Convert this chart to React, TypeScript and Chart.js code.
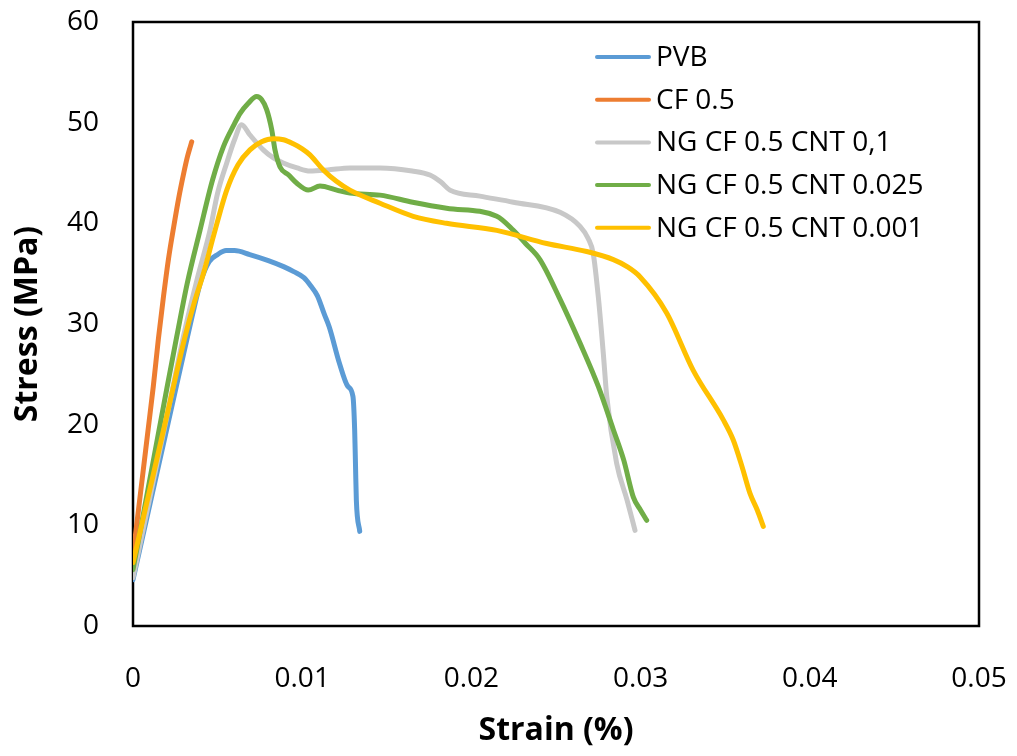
import { useEffect, useRef } from 'react';
import { Chart, registerables } from 'chart.js';

Chart.register(...registerables);

// ---- Data ----
const xTickLabels = ['0', '0.01', '0.02', '0.03', '0.04', '0.05'];
const yTickLabels = ['0', '10', '20', '30', '40', '50', '60'];

const seriesNames = ['PVB', 'CF 0.5', 'NG CF 0.5 CNT 0,1', 'NG CF 0.5 CNT 0.025', 'NG CF 0.5 CNT 0.001'];
const seriesColors = ['#5B9BD5', '#ED7D31', '#C8C8C8', '#70AD47', '#FFC000'];

const pvbStrain = [0, 0.001, 0.002, 0.003, 0.0035, 0.004, 0.0045, 0.005, 0.0055, 0.006, 0.0069, 0.008, 0.0089, 0.0095, 0.0101, 0.0105, 0.0109, 0.0113, 0.0116, 0.0122, 0.0127, 0.013, 0.0131, 0.01315, 0.0132, 0.0134];
const pvbStress = [4.6, 12.1, 19.6, 27.1, 30.8, 34.2, 36.2, 36.9, 37.3, 37.3, 36.9, 36.3, 35.7, 35.2, 34.6, 33.8, 32.8, 31.0, 29.7, 26.1, 23.8, 22.8, 19.5, 16.0, 12.5, 9.4];

const cfStrain = [0, 0.0003, 0.0006, 0.0009, 0.0012, 0.0015, 0.0018, 0.0021, 0.0024, 0.0027, 0.003, 0.0032, 0.0034, 0.00347];
const cfStress = [7.0, 11.2, 15.4, 19.6, 23.8, 28.5, 32.7, 36.5, 39.6, 42.5, 45.0, 46.5, 47.7, 48.1];

const cnt01Strain = [0, 0.001, 0.002, 0.003, 0.0038, 0.00455, 0.005, 0.00554, 0.006, 0.00642, 0.0069, 0.0077, 0.0083, 0.00888, 0.0097, 0.01046, 0.0115, 0.01282, 0.0146, 0.0165, 0.01755, 0.0182, 0.01873, 0.0205, 0.02248, 0.02524, 0.02642, 0.0269, 0.0272, 0.0275, 0.0278, 0.028, 0.02858, 0.0292, 0.02967];
const cnt01Stress = [4.8, 12.8, 20.8, 28.9, 34.5, 39.3, 43.0, 46.0, 48.3, 49.8, 48.8, 47.3, 46.5, 46.0, 45.5, 45.2, 45.3, 45.5, 45.5, 45.2, 44.8, 44.1, 43.3, 42.7, 42.1, 41.1, 39.7, 38.5, 37.0, 32.7, 27.0, 22.8, 16.2, 12.5, 9.5];

const cnt025Strain = [0, 0.001, 0.002, 0.00258, 0.0032, 0.00396, 0.0047, 0.00534, 0.006, 0.00632, 0.0068, 0.00731, 0.0076, 0.0079, 0.0082, 0.00839, 0.00869, 0.0092, 0.00967, 0.01036, 0.01105, 0.01204, 0.01282, 0.0146, 0.01653, 0.01853, 0.0215, 0.02248, 0.0232, 0.02405, 0.0252, 0.02642, 0.0275, 0.02839, 0.029, 0.02957, 0.03, 0.03036];
const cnt025Stress = [5.6, 14.6, 23.6, 28.7, 34.0, 39.3, 44.3, 47.6, 49.9, 50.9, 51.9, 52.6, 52.3, 51.3, 49.3, 47.3, 45.6, 44.8, 44.0, 43.3, 43.7, 43.3, 43.0, 42.8, 42.1, 41.5, 40.7, 39.3, 38.0, 36.4, 32.6, 28.1, 23.8, 19.5, 16.5, 12.8, 11.5, 10.5];

const cnt001Strain = [0, 0.001, 0.002, 0.00307, 0.0036, 0.00416, 0.0048, 0.00554, 0.0062, 0.00691, 0.0076, 0.00829, 0.0089, 0.00947, 0.01, 0.01046, 0.01125, 0.012, 0.01282, 0.0146, 0.01656, 0.01853, 0.0215, 0.02445, 0.02681, 0.02839, 0.0292, 0.02996, 0.03154, 0.03311, 0.03488, 0.03547, 0.036, 0.03646, 0.0369, 0.03725];
const cnt001Stress = [6.3, 13.6, 20.9, 28.7, 32.0, 35.0, 39.0, 43.3, 45.8, 47.3, 48.1, 48.4, 48.3, 47.9, 47.4, 46.8, 45.3, 44.2, 43.3, 42.0, 40.7, 40.0, 39.3, 38.0, 37.2, 36.4, 35.7, 34.7, 31.1, 25.4, 20.5, 18.5, 15.8, 13.2, 11.5, 9.9];

const strainSeries = [pvbStrain, cfStrain, cnt01Strain, cnt025Strain, cnt001Strain];
const stressSeries = [pvbStress, cfStress, cnt01Stress, cnt025Stress, cnt001Stress];

const FONT = "'Open Sans', 'Noto Sans', sans-serif";

const framePlugin = {
  id: 'frame',
  beforeDatasetsDraw(chart: any) {
    const { ctx, chartArea } = chart;
    ctx.save();
    ctx.strokeStyle = '#000';
    ctx.lineWidth = 2.5;
    ctx.strokeRect(chartArea.left, chartArea.top, chartArea.right - chartArea.left, chartArea.bottom - chartArea.top);
    ctx.restore();
  },
};

const legendPlugin = {
  id: 'insideLegend',
  afterDraw(chart: any) {
    const { ctx, chartArea } = chart;
    ctx.save();
    const x0 = chartArea.left + 464;
    const x1 = chartArea.left + 516;
    const tx = chartArea.left + 523;
    ctx.font = `28px ${FONT}`;
    ctx.textBaseline = 'middle';
    ctx.textAlign = 'left';
    seriesNames.forEach((name, i) => {
      const y = chartArea.top + 35 + i * 42.7;
      ctx.strokeStyle = seriesColors[i];
      ctx.lineWidth = 4;
      ctx.lineCap = 'round';
      ctx.beginPath();
      ctx.moveTo(x0, y);
      ctx.lineTo(x1, y);
      ctx.stroke();
      ctx.fillStyle = '#000';
      ctx.fillText(name, tx, y + 1);
    });
    ctx.restore();
  },
};

const zeroPad = (s: any) => {
  s.paddingTop = 0;
  s.paddingBottom = 0;
  s.paddingLeft = 0;
  s.paddingRight = 0;
};

export default function App() {
  const ref = useRef<HTMLCanvasElement | null>(null);

  useEffect(() => {
    document.body.style.margin = '0';
    const canvas = ref.current;
    if (!canvas) return;
    const datasets = seriesNames.map((name, i) => ({
      label: name,
      data: strainSeries[i].map((x, j) => ({ x, y: stressSeries[i][j] })),
      borderColor: seriesColors[i],
      backgroundColor: seriesColors[i],
      borderWidth: 5,
      pointRadius: 0,
      cubicInterpolationMode: 'monotone' as const,
      borderCapStyle: 'round' as const,
      borderJoinStyle: 'round' as const,
      fill: false,
      order: seriesNames.length - i,
    }));
    const chart = new Chart(canvas, {
      type: 'line',
      data: { datasets },
      options: {
        animation: false,
        responsive: false,
        devicePixelRatio: 1,
        layout: { padding: { left: 0, top: 22, right: 38, bottom: 0 } },
        plugins: {
          legend: { display: false },
          tooltip: { enabled: false },
        },
        scales: {
          x: {
            type: 'linear',
            min: 0,
            max: 0.05,
            grid: { display: false, drawTicks: false },
            border: { display: false },
            ticks: {
              stepSize: 0.01,
              padding: 36,
              color: '#000',
              font: { family: FONT, size: 28 },
              maxRotation: 0,
              autoSkip: false,
              callback: (v: any) => xTickLabels[Math.round(Number(v) / 0.01)] ?? '',
            },
            title: {
              display: true,
              text: 'Strain (%)',
              color: '#000',
              font: { family: FONT, size: 32, weight: 'bold' },
              padding: { top: 0, bottom: 6 },
            },
            afterFit: (s: any) => { s.height = 130; zeroPad(s); },
          },
          y: {
            type: 'linear',
            min: 0,
            max: 60,
            grid: { display: false, drawTicks: false },
            border: { display: false },
            ticks: {
              stepSize: 10,
              padding: 34,
              color: '#000',
              font: { family: FONT, size: 28 },
              callback: (v: any) => yTickLabels[Math.round(Number(v) / 10)] ?? '',
            },
            title: {
              display: true,
              text: 'Stress (MPa)',
              color: '#000',
              font: { family: FONT, size: 32, weight: 'bold' },
              padding: { top: 9, bottom: 0 },
            },
            afterFit: (s: any) => { s.width = 133; zeroPad(s); },
          },
        },
      },
      plugins: [framePlugin, legendPlugin],
    });
    return () => chart.destroy();
  }, []);

  return <canvas ref={ref} width={1017} height={756} style={{ display: 'block' }} />;
}
